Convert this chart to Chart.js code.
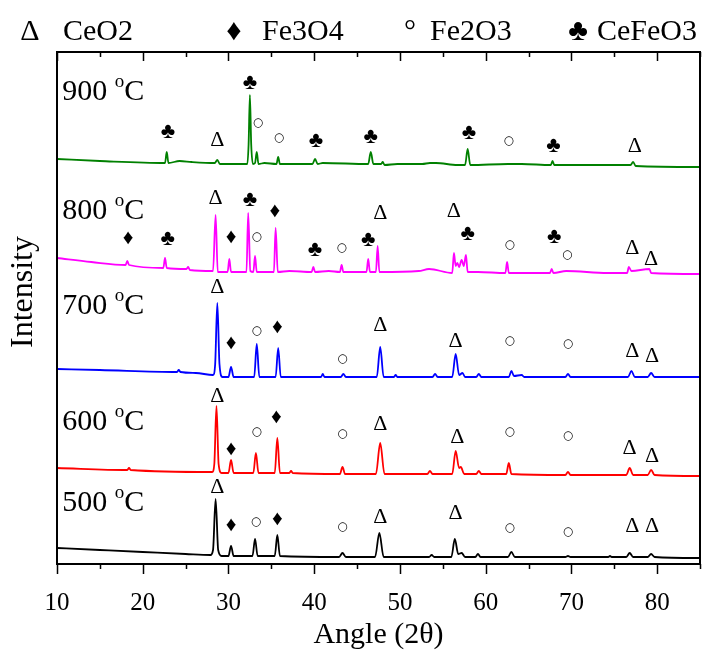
<!DOCTYPE html>
<html>
<head>
<meta charset="utf-8">
<script src="https://cdn.jsdelivr.net/npm/chart.js@4.4.1/dist/chart.umd.min.js"></script>
<style>
  html, body { margin: 0; padding: 0; background: #fff; }
</style>
</head>
<body>
<canvas id="xrdChart" width="707" height="650"></canvas>
<script>
// XRD patterns as [angle 2theta, stacked intensity (a.u.)]
var pts500 = [[10,16],[15,14],[20,12],[25,10],[27.9,9],[28.2,14],[28.5,65],[28.8,14],[29.2,8],[30.0,8],[30.3,18],[30.6,8],
  [32.8,8],[33.1,25],[33.4,8],[35.4,8],[35.7,29],[36.0,8],[42.9,7],[43.3,11],[43.7,7],[47.1,7],[47.6,31],[48.1,7],
  [53.4,7],[53.7,9],[54.0,7],[56.0,7],[56.4,25],[56.8,10],[57.2,11],[57.6,7],[58.8,7],[59.1,10],[59.4,7],
  [62.6,7],[63.0,12],[63.4,7],[69.3,7],[69.6,8],[69.9,7],[74.3,7],[74.5,8],[74.7,7],[76.4,7],[76.8,11],[77.2,7],
  [78.9,7],[79.3,10],[79.7,7],[85,6]];
var pts600 = [[10,96],[18.2,94],[18.4,96],[18.6,94],[28.1,92],[28.35,100],[28.6,158],[28.85,100],[29.2,91],[30.0,91],[30.3,104],[30.6,91],
  [32.9,91],[33.2,111],[33.5,91],[35.4,91],[35.7,126],[36.0,91],[37.1,91],[37.3,93],[37.5,91],[43.0,90],[43.3,97],[43.6,90],
  [47.2,90],[47.7,121],[48.2,90],[53.2,90],[53.5,93],[53.8,90],[56.1,90],[56.5,113],[56.9,96],[57.1,97],[57.5,90],
  [58.9,90],[59.2,93],[59.5,90],[62.4,90],[62.7,101],[63.0,90],[69.3,89],[69.6,92],[69.9,89],[76.4,89],[76.8,96],[77.2,89],
  [78.9,89],[79.3,94],[79.7,89],[85,88]];
var pts700 = [[10,195],[15,194],[24.0,192],[24.2,194],[24.4,192],[26.2,191],[28.2,189],[28.45,200],[28.7,261],[28.95,200],[29.3,187],
  [30.0,187],[30.3,197],[30.6,187],[33.0,187],[33.3,220],[33.6,187],[35.5,187],[35.8,216],[36.1,187],[40.8,187],[41.0,190],[41.2,187],
  [43.1,187],[43.4,190],[43.7,187],[47.3,187],[47.7,217],[48.1,187],[49.3,187],[49.5,189],[49.7,187],[53.8,187],[54.1,190],[54.4,187],
  [56.1,187],[56.5,210],[56.9,189],[57.3,191],[57.6,187],[58.9,187],[59.2,190],[59.5,187],[62.7,187],[63.0,193],[63.3,188],[64.2,189],[64.5,187],
  [69.3,187],[69.6,190],[69.9,187],[76.6,187],[77.0,193],[77.4,187],[78.9,187],[79.3,191],[79.7,187],[85,187]];
var pts800 = [[10,306],[14,302],[18.0,299],[18.2,303],[18.4,299],[22.4,296],[22.6,306],[22.8,296],[25.1,295],[25.3,297],[25.5,294],
  [28.2,293],[28.5,349],[28.75,292],[29.9,292],[30.1,305],[30.3,292],[32.1,292],[32.3,351],[32.55,293],[32.9,292],[33.1,308],[33.3,292],
  [35.3,292],[35.5,336],[35.75,292],[37.1,293],[39.7,292],[39.9,297],[40.1,292],[41.7,293],[43.0,292],[43.2,299],[43.4,292],
  [46.1,292],[46.3,305],[46.5,292],[47.2,292],[47.4,318],[47.6,292],[52.2,293],[53.4,295],[56.1,291],[56.3,311],[56.5,298],
  [56.7,301],[56.9,297],[57.2,304],[57.45,298],[57.7,309],[57.9,292],[59.1,292],[62.3,291],[62.5,302],[62.7,291],
  [67.5,291],[67.7,295],[67.9,291],[69.4,293],[74.2,291],[76.5,291],[76.7,297],[77.0,293],[79.1,295],[79.3,291],[85,290]];
var pts900 = [[10,405],[15,403],[22.6,401],[22.8,412],[23.0,401],[24.3,403],[25.7,402],[28.4,401],[28.7,404],[29.0,400],
  [32.2,400],[32.35,420],[32.5,469],[32.65,420],[32.85,400],[33.1,401],[33.3,412],[33.5,400],[34.2,401],[35.6,400],[35.8,407],[36.0,400],
  [39.8,400],[40.1,405],[40.4,400],[41.0,401],[46.3,400],[46.6,412],[46.9,400],[47.8,400],[48.0,402],[48.2,399],[49.7,400],
  [52.6,400],[53.5,401],[54.2,401],[56.7,399],[57.6,399],[57.9,415],[58.2,399],[62.6,400],[64.2,400],[67.6,399],[67.8,403],[68.0,399],
  [76.9,399],[77.2,402],[77.5,398],[85,397]];

var seriesNames = ['500 °C', '600 °C', '700 °C', '800 °C', '900 °C'];
var seriesColors = ['#000000', '#ff0000', '#0000ff', '#ff00ff', '#008000'];
var seriesPoints = [pts500, pts600, pts700, pts800, pts900];

// temperature labels, at [angle, intensity] of their baseline
var tempNames = ['900', '800', '700', '600', '500'];
var tempLevels = [464, 345, 250, 134, 53];

// phase legend and peak markers [angle, intensity]
var phaseNames = ['CeO2', 'Fe3O4', 'Fe2O3', 'CeFeO3'];
var phaseSymbols = ['\u0394', '\u2666', '\u00b0', '\u2663'];
var ceo2Marks = [[28.7,424],[77.4,418],
  [28.5,366],[47.7,351],[56.3,353],[77.1,316],[79.3,305],
  [28.7,277],[47.7,239],[56.5,223],[77.1,213],[79.4,208],
  [28.7,168],[47.7,140],[56.7,127],[76.8,116],[79.4,108],
  [28.7,77],[47.7,47],[56.5,51],[77.1,38],[79.4,38]];
var fe3o4Marks = [[18.3,326],[30.3,327],[35.4,353],
  [30.3,221],[35.7,237],
  [30.3,115],[35.6,147],
  [30.3,39],[35.7,45]];
var fe2o3Marks = [[33.45,441],[35.9,426],[62.7,423],
  [33.3,327],[43.2,316],[62.8,319],[69.5,309],
  [33.3,233],[43.3,205],[62.8,223],[69.6,220],
  [33.3,132],[43.3,130],[62.8,132],[69.6,128],
  [33.2,42],[43.3,37],[62.8,36],[69.6,32]];
var cefeo3Marks = [[22.95,432],[32.5,481],[40.2,423],[46.6,427],[58.05,431],[67.9,418],
  [22.9,325],[32.5,364],[40.1,314],[46.3,324],[57.9,330],[68.0,327]];

var serif = '"Liberation Serif", "Times New Roman", serif';

var datasets = seriesPoints.map(function (pts, i) {
    return {
        label: seriesNames[i],
        data: pts.map(function (p) { return { x: p[0], y: p[1] }; }),
        borderColor: seriesColors[i],
        borderWidth: 1.8,
        pointRadius: 0,
        cubicInterpolationMode: 'monotone',
        fill: false
    };
});

// frame with inward top ticks and outward bottom ticks
var frame = {
    id: 'frame',
    afterDraw: function (chart) {
        var ctx = chart.ctx, a = chart.chartArea, xs = chart.scales.x;
        ctx.save();
        ctx.strokeStyle = '#000';
        ctx.lineWidth = 2;
        ctx.strokeRect(a.left, a.top, a.right - a.left, a.bottom - a.top);
        ctx.lineWidth = 1.5;
        for (var v = xs.min; v <= xs.max; v += 5) {
            var px = Math.round(xs.getPixelForValue(v)) + 0.5;
            var major = v % 10 === 0;
            ctx.beginPath();
            ctx.moveTo(px, a.bottom);
            ctx.lineTo(px, a.bottom + (major ? 10 : 5));
            ctx.moveTo(px, a.top);
            ctx.lineTo(px, a.top + (major ? 9 : 5));
            ctx.stroke();
        }
        ctx.restore();
    }
};

// phase markers, temperature labels and the phase legend
var marks = {
    id: 'marks',
    afterDraw: function (chart) {
        var ctx = chart.ctx, xs = chart.scales.x, ys = chart.scales.y;
        ctx.save();
        ctx.fillStyle = '#000';
        ctx.textAlign = 'center';
        ctx.textBaseline = 'middle';

        function put(list, sym, font) {
            ctx.font = font;
            list.forEach(function (m) {
                ctx.fillText(sym, xs.getPixelForValue(m[0]), ys.getPixelForValue(m[1]));
            });
        }
        put(ceo2Marks, '\u0394', '22px ' + serif);
        put(fe3o4Marks, '\u2666', '21px ' + serif);
        put(fe2o3Marks, '\u25cb', '12px "DejaVu Sans"');
        put(cefeo3Marks, '\u2663', '22px ' + serif);

        // temperature labels with superscript o
        ctx.textAlign = 'left';
        ctx.textBaseline = 'alphabetic';
        tempNames.forEach(function (t, i) {
            var x = xs.getPixelForValue(10.6), y = ys.getPixelForValue(tempLevels[i]);
            ctx.font = '30px ' + serif;
            ctx.fillText(t + ' ', x, y);
            x += ctx.measureText(t + ' ').width;
            ctx.font = '19px ' + serif;
            ctx.fillText('o', x, y - 13);
            x += ctx.measureText('o').width;
            ctx.font = '30px ' + serif;
            ctx.fillText('C', x, y);
        });

        // legend row
        var symX = [30, 234, 410, 578];
        var txtX = [63, 262, 430, 597];
        ctx.font = '30px ' + serif;
        phaseNames.forEach(function (n, i) {
            ctx.textAlign = 'center';
            ctx.fillText(phaseSymbols[i], symX[i], 40);
            ctx.textAlign = 'left';
            ctx.fillText(n, txtX[i], 40);
        });
        ctx.restore();
    }
};

new Chart(document.getElementById('xrdChart').getContext('2d'), {
    type: 'line',
    data: { datasets: datasets },
    options: {
        responsive: false,
        animation: false,
        layout: { padding: { top: 52, right: 7, bottom: 0, left: 0 } },
        plugins: {
            legend: { display: false },
            tooltip: { enabled: false }
        },
        scales: {
            x: {
                type: 'linear',
                min: 10,
                max: 85,
                grid: { display: false },
                border: { display: false },
                ticks: {
                    stepSize: 10,
                    includeBounds: false,
                    padding: 16,
                    maxRotation: 0,
                    color: '#000',
                    font: { family: serif, size: 25 }
                },
                title: {
                    display: true,
                    text: 'Angle (2\u03b8)',
                    color: '#000',
                    font: { family: serif, size: 30, lineHeight: 1 },
                    padding: { top: 0, bottom: 0 }
                },
                afterFit: function (s) { s.height = 86; }
            },
            y: {
                min: 0,
                max: 512,
                grid: { display: false },
                border: { display: false },
                ticks: { display: false },
                title: {
                    display: true,
                    text: '    Intensity',
                    color: '#000',
                    font: { family: serif, size: 32, lineHeight: 1 },
                    padding: { top: 8, bottom: 0 }
                },
                afterFit: function (s) { s.width = 57; }
            }
        }
    },
    plugins: [frame, marks]
});
</script>
</body>
</html>
